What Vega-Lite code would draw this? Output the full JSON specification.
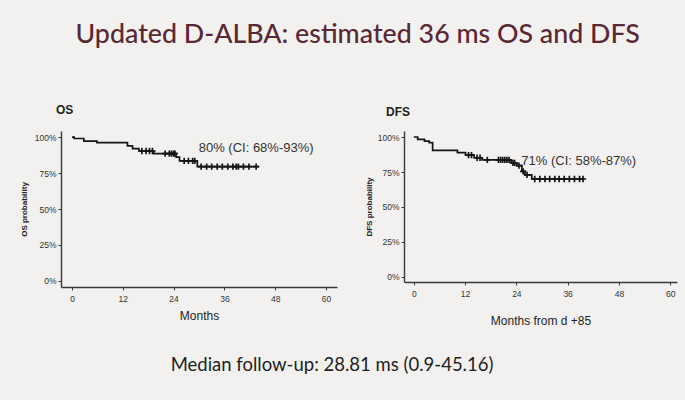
{
  "$schema": "https://vega.github.io/schema/vega-lite/v6.json",
  "background": "#f2f1ef",
  "padding": {"left": 20, "top": 22, "right": 10, "bottom": 26},
  "config": {
    "view": {"stroke": null},
    "axis": {"grid": false, "domainColor": "#3a3a3a", "domainWidth": 1.4, "tickColor": "#3a3a3a", "tickSize": 3, "labelFont": "Liberation Sans", "labelFontSize": 8.5, "labelColor": "#333", "titleFont": "Liberation Sans", "titleColor": "#222"}
  },
  "title": {"text": "Updated D-ALBA: estimated 36 ms OS and DFS", "font": "Lato", "fontSize": 26.8, "fontWeight": 500, "color": "#5a2834", "anchor": "middle", "offset": 55, "dx": 9},
  "datasets": {
    "os_curve": [
      {"month": 0, "surv": 100}, {"month": 0.5, "surv": 99}, {"month": 2.8, "surv": 97.2}, {"month": 5.9, "surv": 96.1},
      {"month": 13.1, "surv": 93.8}, {"month": 14.3, "surv": 92}, {"month": 15.8, "surv": 90.3}, {"month": 19.3, "surv": 88.5},
      {"month": 24.6, "surv": 86}, {"month": 25.4, "surv": 83.5}, {"month": 29.6, "surv": 79.5}, {"month": 44.1, "surv": 79.5}
    ],
    "os_cens": [
      {"month": 16.5, "surv": 90.3}, {"month": 17.5, "surv": 90.3}, {"month": 18.3, "surv": 90.3}, {"month": 19, "surv": 90.3},
      {"month": 22, "surv": 88.5}, {"month": 23, "surv": 88.5}, {"month": 23.5, "surv": 88.5}, {"month": 24, "surv": 88.5}, {"month": 24.3, "surv": 88.5},
      {"month": 26.5, "surv": 83.5}, {"month": 27.5, "surv": 83.5}, {"month": 28.5, "surv": 83.5}, {"month": 29, "surv": 83.5},
      {"month": 30.5, "surv": 79.5}, {"month": 31.8, "surv": 79.5}, {"month": 33, "surv": 79.5}, {"month": 34.3, "surv": 79.5}, {"month": 35.5, "surv": 79.5},
      {"month": 36.8, "surv": 79.5}, {"month": 38, "surv": 79.5}, {"month": 38.8, "surv": 79.5}, {"month": 39.3, "surv": 79.5}, {"month": 40.5, "surv": 79.5},
      {"month": 41.8, "surv": 79.5}, {"month": 43.5, "surv": 79.5}
    ],
    "os_note": [{"month": 43.5, "surv": 92.4, "label": "80% (CI: 68%-93%)"}],
    "dfs_curve": [
      {"month": 0, "surv": 100}, {"month": 0.9, "surv": 98.3}, {"month": 2.5, "surv": 97.1}, {"month": 3.6, "surv": 96},
      {"month": 4.4, "surv": 90.5}, {"month": 10.2, "surv": 88.8}, {"month": 12.1, "surv": 87.1}, {"month": 14.1, "surv": 85.2},
      {"month": 16, "surv": 83.7}, {"month": 22.8, "surv": 81.5}, {"month": 24.1, "surv": 79.5}, {"month": 25.3, "surv": 75.5},
      {"month": 26, "surv": 73}, {"month": 27.6, "surv": 70}, {"month": 39.9, "surv": 70}
    ],
    "dfs_cens": [
      {"month": 12.8, "surv": 87.1}, {"month": 13.5, "surv": 87.1}, {"month": 14.8, "surv": 85.2}, {"month": 15.5, "surv": 85.2},
      {"month": 17.2, "surv": 83.7}, {"month": 19.8, "surv": 83.7}, {"month": 20.3, "surv": 83.7}, {"month": 20.8, "surv": 83.7}, {"month": 21.3, "surv": 83.7},
      {"month": 21.8, "surv": 83.7}, {"month": 22.3, "surv": 83.7}, {"month": 23.2, "surv": 81.5}, {"month": 23.6, "surv": 81.5}, {"month": 24.6, "surv": 79.5},
      {"month": 25.6, "surv": 75.5}, {"month": 26.5, "surv": 73}, {"month": 28.3, "surv": 70}, {"month": 29.5, "surv": 70}, {"month": 30.7, "surv": 70},
      {"month": 31.8, "surv": 70}, {"month": 33, "surv": 70}, {"month": 34, "surv": 70}, {"month": 35.2, "surv": 70}, {"month": 36.4, "surv": 70},
      {"month": 37.6, "surv": 70}, {"month": 38.8, "surv": 70}, {"month": 39.6, "surv": 70}
    ],
    "dfs_note": [{"month": 38.6, "surv": 82.9, "label": "71% (CI: 58%-87%)"}],
    "footer": [{"label": "Median follow-up: 28.81 ms (0.9-45.16)"}]
  },
  "vconcat": [
    {
      "hconcat": [
        {
          "title": {"text": "OS", "font": "Liberation Sans", "fontSize": 12, "fontWeight": "bold", "color": "#222", "anchor": "start", "frame": "group", "dx": -5, "offset": 14},
          "width": 276, "height": 156,
          "encoding": {
            "x": {"field": "month", "type": "quantitative", "scale": {"domain": [-2.6, 62.6], "nice": false, "zero": false},
                  "axis": {"values": [0, 12, 24, 36, 48, 60], "title": "Months", "titleFontSize": 12, "titleFontWeight": "normal", "titlePadding": 8, "labelPadding": 4}},
            "y": {"field": "surv", "type": "quantitative", "scale": {"domain": [-4.2, 104.2], "nice": false, "zero": false},
                  "axis": {"values": [0, 25, 50, 75, 100], "labelExpr": "datum.value + '%'", "title": "OS probability", "titleFontSize": 8, "titleFontWeight": "bold", "titlePadding": 6}}
          },
          "layer": [
            {"data": {"name": "os_curve"}, "mark": {"type": "line", "interpolate": "step-after", "color": "#151515", "strokeWidth": 1.7}},
            {"data": {"name": "os_cens"}, "mark": {"type": "point", "shape": "M-1,0L1,0M0,-1L0,1", "filled": false, "color": "#151515", "strokeWidth": 1.7, "size": 40, "opacity": 1}},
            {"data": {"name": "os_note"}, "mark": {"type": "text", "font": "Liberation Sans", "fontSize": 13, "color": "#333"}, "encoding": {"text": {"field": "label"}}}
          ]
        },
        {
          "title": {"text": "DFS", "font": "Liberation Sans", "fontSize": 12, "fontWeight": "bold", "color": "#222", "anchor": "start", "frame": "group", "dx": -18, "offset": 12},
          "width": 273, "height": 151,
          "encoding": {
            "x": {"field": "month", "type": "quantitative", "scale": {"domain": [-2.3, 61.6], "nice": false, "zero": false},
                  "axis": {"values": [0, 12, 24, 36, 48, 60], "title": "Months from d +85", "titleFontSize": 12, "titleFontWeight": "normal", "titlePadding": 18, "labelPadding": 4}},
            "y": {"field": "surv", "type": "quantitative", "scale": {"domain": [-3.6, 104.3], "nice": false, "zero": false},
                  "axis": {"values": [0, 25, 50, 75, 100], "labelExpr": "datum.value + '%'", "title": "DFS probability", "titleFontSize": 8, "titleFontWeight": "bold", "titlePadding": 4}}
          },
          "layer": [
            {"data": {"name": "dfs_curve"}, "mark": {"type": "line", "interpolate": "step-after", "color": "#151515", "strokeWidth": 1.7}},
            {"data": {"name": "dfs_cens"}, "mark": {"type": "point", "shape": "M-1,0L1,0M0,-1L0,1", "filled": false, "color": "#151515", "strokeWidth": 1.7, "size": 40, "opacity": 1}},
            {"data": {"name": "dfs_note"}, "mark": {"type": "text", "font": "Liberation Sans", "fontSize": 13, "color": "#333"}, "encoding": {"text": {"field": "label"}}}
          ]
        }
      ],
      "spacing": 28
    },
    {
      "data": {"name": "footer"},
      "width": 542, "height": 20,
      "mark": {"type": "text", "font": "Lato", "fontSize": 18.5, "color": "#222"},
      "encoding": {"text": {"field": "label"}}
    }
  ],
  "spacing": 28
}
